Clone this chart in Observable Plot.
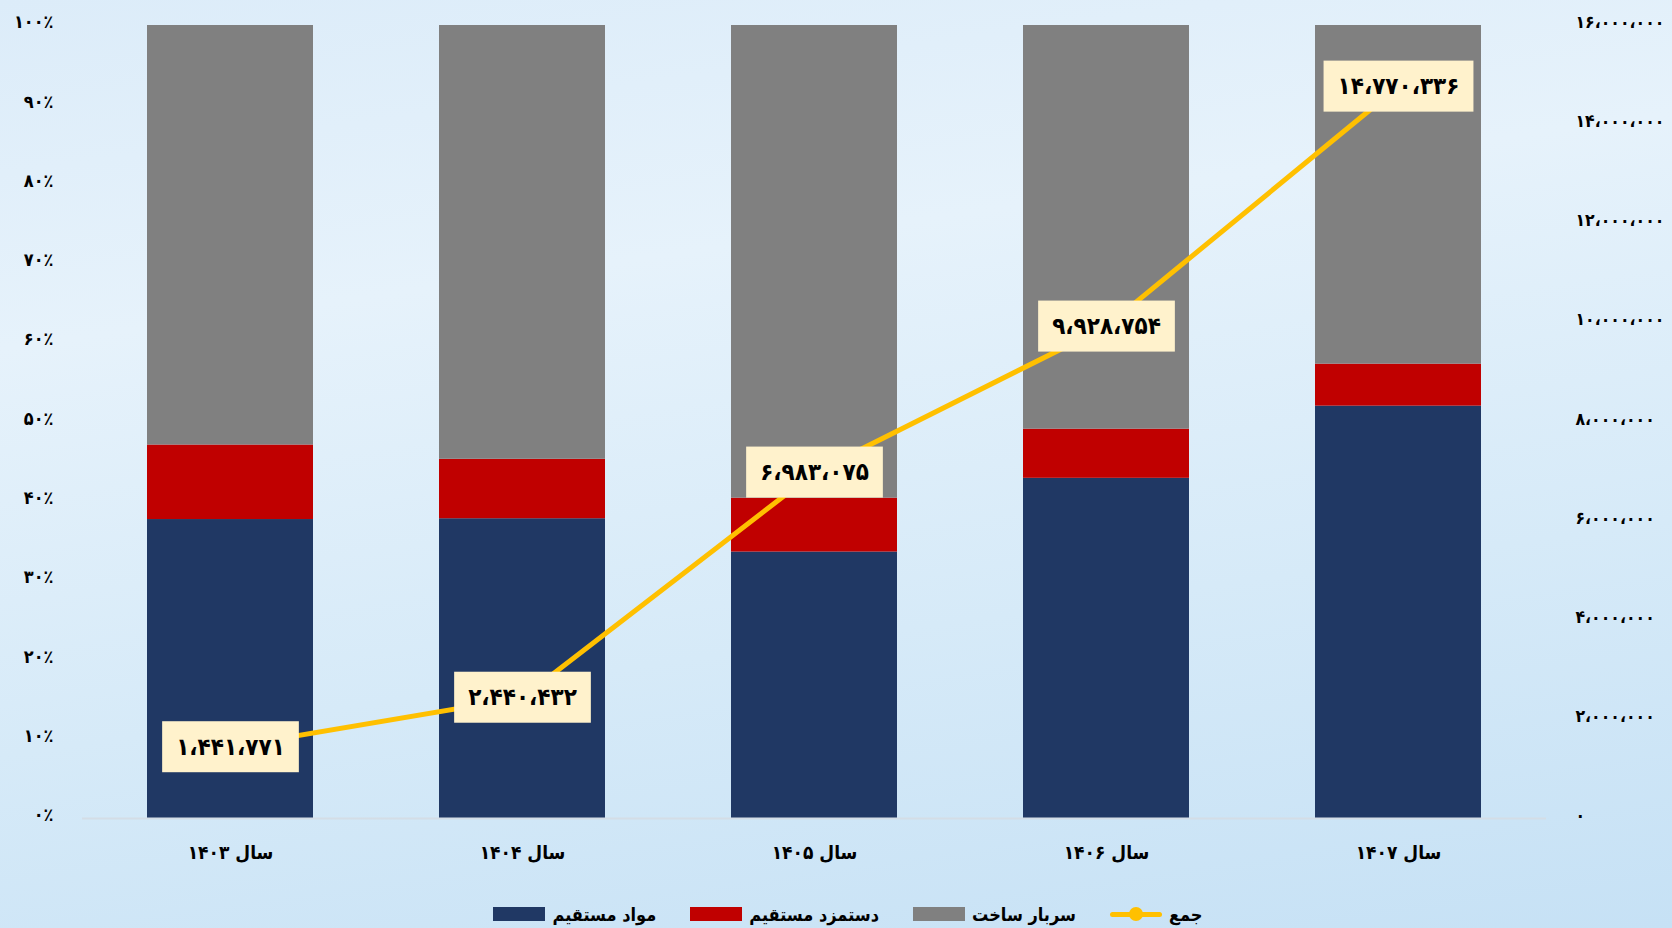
<!DOCTYPE html>
<html>
<head>
<meta charset="utf-8">
<script src="https://cdn.jsdelivr.net/npm/d3@7"></script>
<script src="https://cdn.jsdelivr.net/npm/@observablehq/plot@0.6"></script>
<style>
  html, body { margin: 0; padding: 0; width: 1672px; height: 928px; overflow: hidden; }
  body {
    background: linear-gradient(172deg, #dcecf9 0%, #e6f2fb 30%, #d6eaf8 65%, #c6e1f5 100%);
    font-family: "DejaVu Sans", sans-serif;
  }
  #chart svg { display: block; }
  #chart svg text { font-stretch: condensed; }
  #legend {
    height: 28px; padding-top: 10px; display: flex; align-items: center; justify-content: center;
    gap: 34px; padding-left: 24px; font-weight: bold; font-size: 18px; color: #000; font-stretch: condensed;
  }
  .item { display: flex; align-items: center; gap: 7px; }
  .sw { width: 52px; height: 14px; }
  .ln { width: 52px; height: 14px; position: relative; }
  .ln::before { content: ""; position: absolute; left: 0; right: 0; top: 5px; height: 5px; background: #FFC000; border-radius: 3px; }
  .ln::after { content: ""; position: absolute; left: 19px; top: 0; width: 14px; height: 14px; border-radius: 50%; background: #FFC000; }
</style>
</head>
<body>
<div id="chart"></div>
<div id="legend"></div>
<script>
// ---- data ----
const years = ["سال ۱۴۰۳", "سال ۱۴۰۴", "سال ۱۴۰۵", "سال ۱۴۰۶", "سال ۱۴۰۷"];
const seriesNames = ["مواد مستقیم", "دستمزد مستقیم", "سربار ساخت"];
const seriesColors = ["#203864", "#C00000", "#808080"];
const materials = [37.7, 37.8, 33.6, 42.9, 52.0];   // % share
const labor     = [9.4, 7.5, 6.8, 6.2, 5.3];        // % share
const overhead  = [52.9, 54.7, 59.6, 50.9, 42.7];   // % share
const totals = [1441771, 2440432, 6983075, 9928754, 14770336];
const totalName = "جمع";
const totalColor = "#FFC000";
const leftTicks = [0, 10, 20, 30, 40, 50, 60, 70, 80, 90, 100];
const rightTicks = [0, 2000000, 4000000, 6000000, 8000000, 10000000, 12000000, 14000000, 16000000];
const rightMax = 16000000;

// ---- helpers ----
const faDigits = "۰۱۲۳۴۵۶۷۸۹";
const toFa = s => String(s).replace(/\d/g, d => faDigits[+d]).replace(/,/g, "،");
const fmtNum = v => toFa(d3.format(",")(v));
const toLeft = v => v / rightMax * 100; // right-axis value -> shared y units

const stacked = [];
const shares = [materials, labor, overhead];
years.forEach((yr, i) => seriesNames.forEach((s, j) => stacked.push({year: yr, series: s, value: shares[j][i]})));
const lineData = years.map((yr, i) => ({year: yr, total: totals[i]}));
const labelTexts = totals.map(fmtNum);

const W = 1672, H = 890;
const plot = Plot.plot({
  width: W, height: H,
  marginTop: 25, marginBottom: 72, marginLeft: 82, marginRight: 126,
  style: {background: "transparent", fontFamily: "DejaVu Sans, sans-serif", fontSize: "17px", fontWeight: "bold", color: "#000"},
  x: {domain: years, paddingInner: 0.433, paddingOuter: 0.2165, label: null},
  y: {domain: [0, 100], label: null},
  color: {domain: seriesNames, range: seriesColors},
  marks: [
    Plot.barY(stacked, {x: "year", y: "value", fill: "series", order: seriesNames}),
    Plot.ruleY([0], {stroke: "#d4dde6", strokeWidth: 2}),
    Plot.axisY({anchor: "left", ticks: leftTicks, tickSize: 0, tickPadding: 29, dy: -3,
      tickFormat: d => toFa(d) + "٪", fontSize: 18, label: null}),
    Plot.axisY({anchor: "right", ticks: rightTicks.map(toLeft), tickSize: 0, tickPadding: 29, dy: -3,
      tickFormat: d => fmtNum(Math.round(d * rightMax / 100)), fontSize: 17.5, label: null}),
    Plot.axisX({anchor: "bottom", tickSize: 0, tickPadding: 27, fontSize: 19, label: null}),
    Plot.line(lineData, {x: "year", y: d => toLeft(d.total), stroke: totalColor, strokeWidth: 5}),
    Plot.text(lineData, {x: "year", y: d => toLeft(d.total), text: d => fmtNum(d.total),
      fontSize: 24, fontWeight: "bold", fill: "#000"})
  ]
});
document.getElementById("chart").appendChild(plot);

// label backgrounds (behind the value labels, above the line)
const ns = "http://www.w3.org/2000/svg";
const labelNodes = Array.from(plot.querySelectorAll("text")).filter(t => labelTexts.includes(t.textContent));
if (labelNodes.length) {
  const tg = labelNodes[0].parentNode;
  const bg = document.createElementNS(ns, "g");
  const gtr = tg.getAttribute("transform");
  if (gtr) bg.setAttribute("transform", gtr);
  labelNodes.forEach(t => {
    const b = t.getBBox();
    const r = document.createElementNS(ns, "rect");
    const cy = b.y + b.height / 2;
    r.setAttribute("x", b.x - 14);
    r.setAttribute("y", cy - 25.5);
    r.setAttribute("width", b.width + 28);
    r.setAttribute("height", 51);
    r.setAttribute("fill", "#FFF2CC");
    const tr = t.getAttribute("transform");
    if (tr) r.setAttribute("transform", tr);
    bg.appendChild(r);
  });
  tg.parentNode.insertBefore(bg, tg);
}

// legend
const legend = document.getElementById("legend");
seriesNames.forEach((s, i) => {
  const it = document.createElement("div"); it.className = "item";
  const sw = document.createElement("div"); sw.className = "sw"; sw.style.background = seriesColors[i];
  const tx = document.createElement("span"); tx.textContent = s;
  it.appendChild(sw); it.appendChild(tx); legend.appendChild(it);
});
{
  const it = document.createElement("div"); it.className = "item";
  const sw = document.createElement("div"); sw.className = "ln";
  const tx = document.createElement("span"); tx.textContent = totalName;
  it.appendChild(sw); it.appendChild(tx); legend.appendChild(it);
}
</script>
</body>
</html>
